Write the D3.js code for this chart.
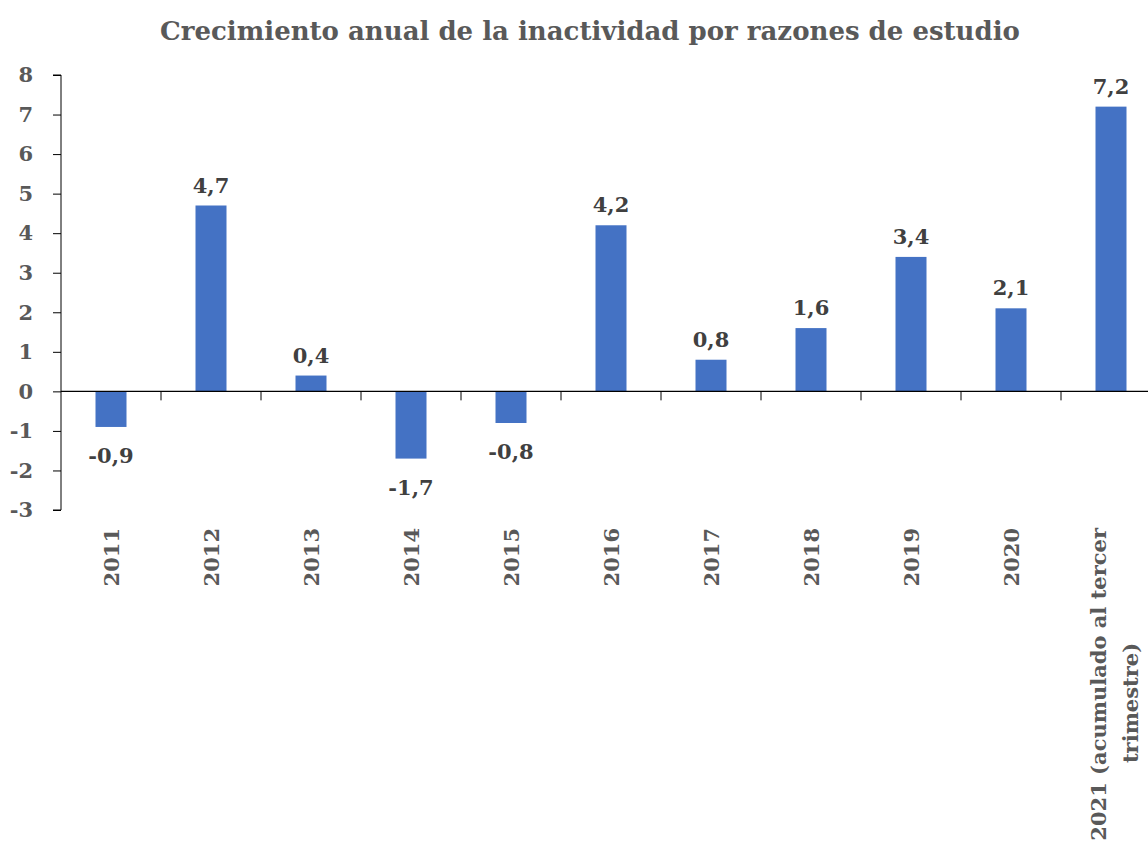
<!DOCTYPE html>
<html>
<head>
<meta charset="utf-8">
<script src="https://cdn.jsdelivr.net/npm/d3@7"></script>
<style>
  body { margin: 0; background: #fff; }
  svg { display: block; }
  text { font-family: "DejaVu Serif", "Liberation Serif", serif; font-weight: bold; }
</style>
</head>
<body>
<div id="chart"></div>
<script>
// data
var years = ["2011", "2012", "2013", "2014", "2015", "2016", "2017", "2018", "2019", "2020", "2021 (acumulado al tercer trimestre)"];
var values = [-0.9, 4.7, 0.4, -1.7, -0.8, 4.2, 0.8, 1.6, 3.4, 2.1, 7.2];
var yTicks = [-3, -2, -1, 0, 1, 2, 3, 4, 5, 6, 7, 8];
var title = "Crecimiento anual de la inactividad por razones de estudio";

var width = 1148,
    height = 842;
var margin = { top: 75, right: -13, bottom: 332, left: 61 };

var svg = d3
    .select("#chart")
    .append("svg")
    .attr("width", width)
    .attr("height", height);

var x = d3
    .scaleBand()
    .domain(years)
    .range([margin.left, width - margin.right])
    .paddingInner(0.69)
    .paddingOuter(0.345);

var y = d3
    .scaleLinear()
    .domain([-3, 8])
    .range([height - margin.bottom, margin.top]);

// title
svg.append("text")
    .attr("x", 590)
    .attr("y", 40)
    .attr("text-anchor", "middle")
    .style("font-size", "26px")
    .style("fill", "#595959")
    .text(title);

// bars
svg.selectAll("rect.bar")
    .data(values)
    .enter()
    .append("rect")
    .attr("class", "bar")
    .attr("x", function (d, i) { return x(years[i]); })
    .attr("width", x.bandwidth())
    .attr("y", function (d) { return y(Math.max(0, d)); })
    .attr("height", function (d) { return Math.abs(y(d) - y(0)); })
    .style("fill", "#4472C4");

// value labels
svg.selectAll("text.val")
    .data(values)
    .enter()
    .append("text")
    .attr("class", "val")
    .attr("x", function (d, i) { return x(years[i]) + x.bandwidth() / 2; })
    .attr("y", function (d) { return d >= 0 ? y(d) - 13 : y(d) + 36; })
    .attr("text-anchor", "middle")
    .style("font-size", "21px")
    .style("fill", "#404040")
    .text(function (d) { return String(d).replace(".", ","); });

// y axis
var yAxis = svg.append("g")
    .attr("transform", "translate(" + margin.left + ",0)")
    .call(d3.axisLeft(y).tickValues(yTicks).tickSize(8).tickPadding(8).tickFormat(d3.format("d")));
yAxis.select(".domain").attr("stroke", "#000").attr("d", "M-8," + y(-3) + "H0V" + y(8) + "H-8");
yAxis.selectAll(".tick line").attr("stroke", "#000");
yAxis.selectAll(".tick text")
    .style("font-family", "DejaVu Serif")
    .style("font-size", "21px")
    .style("font-weight", "bold")
    .style("fill", "#595959")
    .attr("x", -28)
    .attr("text-anchor", "end")
    .text(function (d) { return String(d).replace("\u2212", "-"); });

// x axis line at zero with ticks at category boundaries
var step = x.step();
var bounds = d3.range(1, years.length + 1).map(function (i) { return margin.left + i * step; });
svg.append("line")
    .attr("x1", margin.left)
    .attr("x2", width)
    .attr("y1", y(0))
    .attr("y2", y(0))
    .attr("stroke", "#000")
    .attr("stroke-width", 1.2);
svg.selectAll("line.xt")
    .data(bounds)
    .enter()
    .append("line")
    .attr("class", "xt")
    .attr("x1", function (d) { return d; })
    .attr("x2", function (d) { return d; })
    .attr("y1", y(0))
    .attr("y2", y(0) + 9)
    .attr("stroke", "#000");

// category labels, rotated
var labelTop = 528;
years.forEach(function (c, i) {
    var cx = x(c) + x.bandwidth() / 2;
    var lines = i === years.length - 1 ? ["2021 (acumulado al tercer", "trimestre)"] : [c];
    var g = svg.append("g")
        .attr("transform", "translate(" + cx + "," + labelTop + ") rotate(-90)");
    if (lines.length === 1) {
        g.append("text")
            .attr("x", 0)
            .attr("y", 8)
            .attr("text-anchor", "end")
            .style("font-size", "21px")
            .style("fill", "#595959")
            .text(lines[0]);
    } else {
        g.append("text")
            .attr("x", 0)
            .attr("y", -5)
            .attr("text-anchor", "end")
            .style("font-size", "21px")
            .style("fill", "#595959")
            .text(lines[0]);
        g.append("text")
            .attr("x", -175)
            .attr("y", 27)
            .attr("text-anchor", "middle")
            .style("font-size", "21px")
            .style("fill", "#595959")
            .text(lines[1]);
    }
});
</script>
</body>
</html>
